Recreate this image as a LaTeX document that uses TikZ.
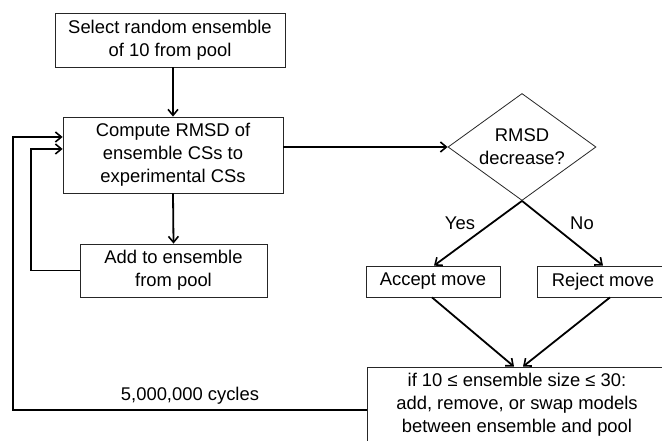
\documentclass[tikz,border=0pt]{standalone}
\usepackage{fontspec}
\setmainfont{Liberation Sans}
\usetikzlibrary{arrows.meta,shapes.geometric}

\tikzset{
  stepbox/.style={draw=black!85, line width=0.8bp, fill=white, align=center,
    inner sep=0pt, font=\fontsize{18.4bp}{22.8bp}\selectfont},
  decision/.style={stepbox, shape=diamond, shape aspect=1.38},
  plain/.style={inner sep=0pt, align=center, font=\fontsize{18.4bp}{22.8bp}\selectfont},
  flow/.style={line width=1.8bp, black, -{Straight Barb[length=6bp,width=10bp,line width=1.6bp]}},
  link/.style={line width=1.8bp, black}
}

\begin{document}
\begin{tikzpicture}[x=1bp,y=-1bp]
\useasboundingbox (0,0) rectangle (662,441);

% process boxes
\node[stepbox, minimum width=230bp, minimum height=54bp] (select) at (170,40)
  {Select random ensemble\\of 10 from pool};
\node[stepbox, minimum width=220bp, minimum height=76bp] (compute) at (173,155)
  {Compute RMSD of\\ensemble CSs to\\experimental CSs};
\node[stepbox, minimum width=187bp, minimum height=53bp] (add) at (173.5,270.5)
  {Add to ensemble\\from pool};
\node[decision, minimum width=148bp, minimum height=107bp] (dec) at (522,147)
  {RMSD\\decrease?};
\node[stepbox, minimum width=134bp, minimum height=31bp] (accept) at (433,281.5)
  {Accept move};
\node[stepbox, minimum width=132bp, minimum height=31bp] (reject) at (603,281.5)
  {Reject move};
\node[stepbox, minimum width=300bp, minimum height=76bp] (resize) at (517,405)
  {if 10 ≤ ensemble size ≤ 30:\\add, remove, or swap models\\between ensemble and pool};

% labels
\node[plain] (yes) at (460,223) {Yes};
\node[plain] (no) at (582,223) {No};
\node[plain] (cycles) at (190,396) {5,000,000 cycles};

% loop corners
\coordinate (innerc) at (31,149);
\coordinate (outerc) at (13,137);

% connectors
\draw[flow] (select.south -| compute) -- (compute.north);
\draw[flow] (compute.east |- dec.west) -- (dec.west);
\draw[flow] (compute.south) -- (add.north);
\draw[flow] (add.west) -| (innerc) -- (innerc -| compute.west);
\draw[flow] ([yshift=-5bp]resize.west) -| (outerc) -- (outerc -| compute.west);
\draw[flow] (dec.south) -- ([xshift=1bp]accept.north);
\draw[flow] (dec.south) -- (reject.north);
\draw[flow] ([xshift=-1bp]accept.south) -- ([xshift=-3bp]resize.north);
\draw[flow] ([xshift=7bp]reject.south) -- ([xshift=6bp]resize.north);
\end{tikzpicture}
\end{document}
